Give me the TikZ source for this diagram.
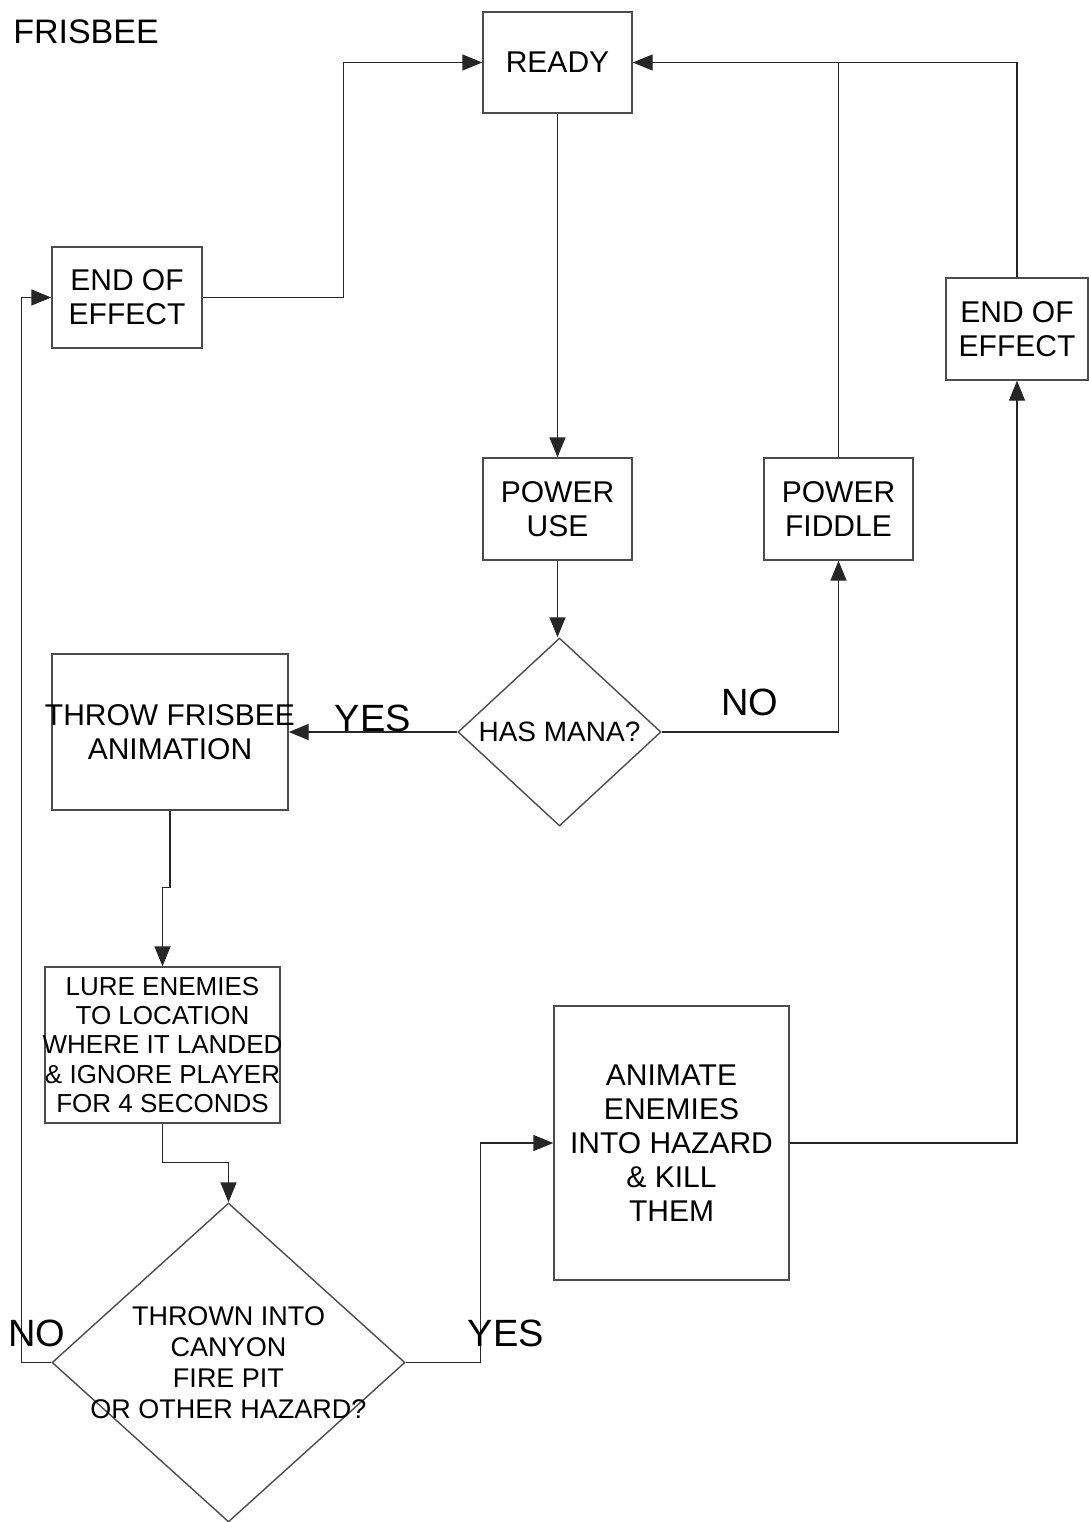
\documentclass[tikz,border=0pt]{standalone}
\usepackage{fontspec}
\setmainfont{Liberation Sans}
\usetikzlibrary{arrows.meta,shapes.geometric}
% zero-width centred line, so long lines may overhang their box
\newcommand\zl[1]{\makebox[0pt][c]{#1}}
\begin{document}
\begin{tikzpicture}[x=0.5pt,y=-0.5pt,
  box/.style={draw=black!70,line width=0.7pt,inner sep=0pt,align=center,
              font=\fontsize{15}{17}\selectfont},
  decision/.style={draw=black!70,line width=0.7pt,diamond,inner sep=0pt,aspect=1,
              align=center},
  arr/.style={draw=black!85,line width=0.7pt,-{Triangle[length=10pt,width=8pt]}},
  conn/.style={draw=black!85,line width=0.7pt},
  lbl/.style={font=\fontsize{19}{19}\selectfont,inner sep=0pt}]
\useasboundingbox (0,0) rectangle (1088,1522);

\node[inner sep=0pt,font=\fontsize{17}{17}\selectfont] (title) at (86,32) {FRISBEE};

\node[box,minimum width=74.5pt,minimum height=50.5pt] (ready) at (557.5,62.5) {READY};
\node[box,minimum width=75pt,minimum height=50.5pt] (eoeL) at (127,297.5) {END OF\\EFFECT};
\node[box,minimum width=71pt,minimum height=51pt] (eoeR) at (1017,329) {END OF\\EFFECT};
\node[box,minimum width=74.5pt,minimum height=51pt] (puse) at (557.5,509) {POWER\\USE};
\node[box,minimum width=74.5pt,minimum height=51pt] (pfid) at (838.5,509) {POWER\\FIDDLE};
\node[decision,minimum width=101.5pt,minimum height=94pt,
      font=\fontsize{14}{15}\selectfont] (mana) at (559.5,732) {\zl{HAS MANA?}};
\node[box,minimum width=118pt,minimum height=78pt] (throw) at (170,732)
  {\zl{THROW FRISBEE}\\\zl{ANIMATION}};
\node[box,minimum width=117.5pt,minimum height=78pt,font=\fontsize{13}{14.65}\selectfont]
  (lure) at (162.5,1045)
  {\zl{LURE ENEMIES}\\\zl{TO LOCATION}\\\zl{WHERE IT LANDED}\\\zl{\& IGNORE PLAYER}\\\zl{FOR 4 SECONDS}};
\node[decision,minimum width=176.5pt,minimum height=159.5pt,
      font=\fontsize{13.5}{15.5}\selectfont] (hazard) at (228.5,1362.5)
  {\zl{THROWN INTO}\\\zl{CANYON}\\\zl{FIRE PIT}\\\zl{OR OTHER HAZARD?}};
\node[box,minimum width=117.5pt,minimum height=137pt] (animate) at (671.5,1143)
  {\zl{ANIMATE}\\\zl{ENEMIES}\\\zl{INTO HAZARD}\\\zl{\& KILL}\\\zl{THEM}};

% connectors
\draw[arr] (eoeL.east) -- ++(141,0) |- (ready.west);
\draw[arr] (ready.south) -- (puse.north);
\draw[arr] (pfid.north) |- (ready.east);
\draw[conn] (eoeR.north) |- (pfid.north |- ready.east);
\draw[arr] (puse.south) -- (puse.south |- mana.north);
\draw[arr] (mana.west) -- (throw.east);
\draw[arr] (mana.east) -| (pfid.south);
\draw[arr] (throw.south) -- ++(0,77) -| (lure.north);
\draw[arr] (lure.south) -- ++(0,39) -| (hazard.north);
\draw[arr] (hazard.west) -- ++(-30,0) |- (eoeL.west);
\draw[arr] (hazard.east) -- ++(75,0) |- (animate.west);
\draw[arr] (animate.east) -| (eoeR.south);

% branch labels
\node[lbl] (yes1) at (373,718) {YES};
\node[lbl] (no1) at (750,702) {NO};
\node[lbl] (no2) at (37,1333) {NO};
\node[lbl] (yes2) at (506,1333) {YES};
\end{tikzpicture}
\end{document}
